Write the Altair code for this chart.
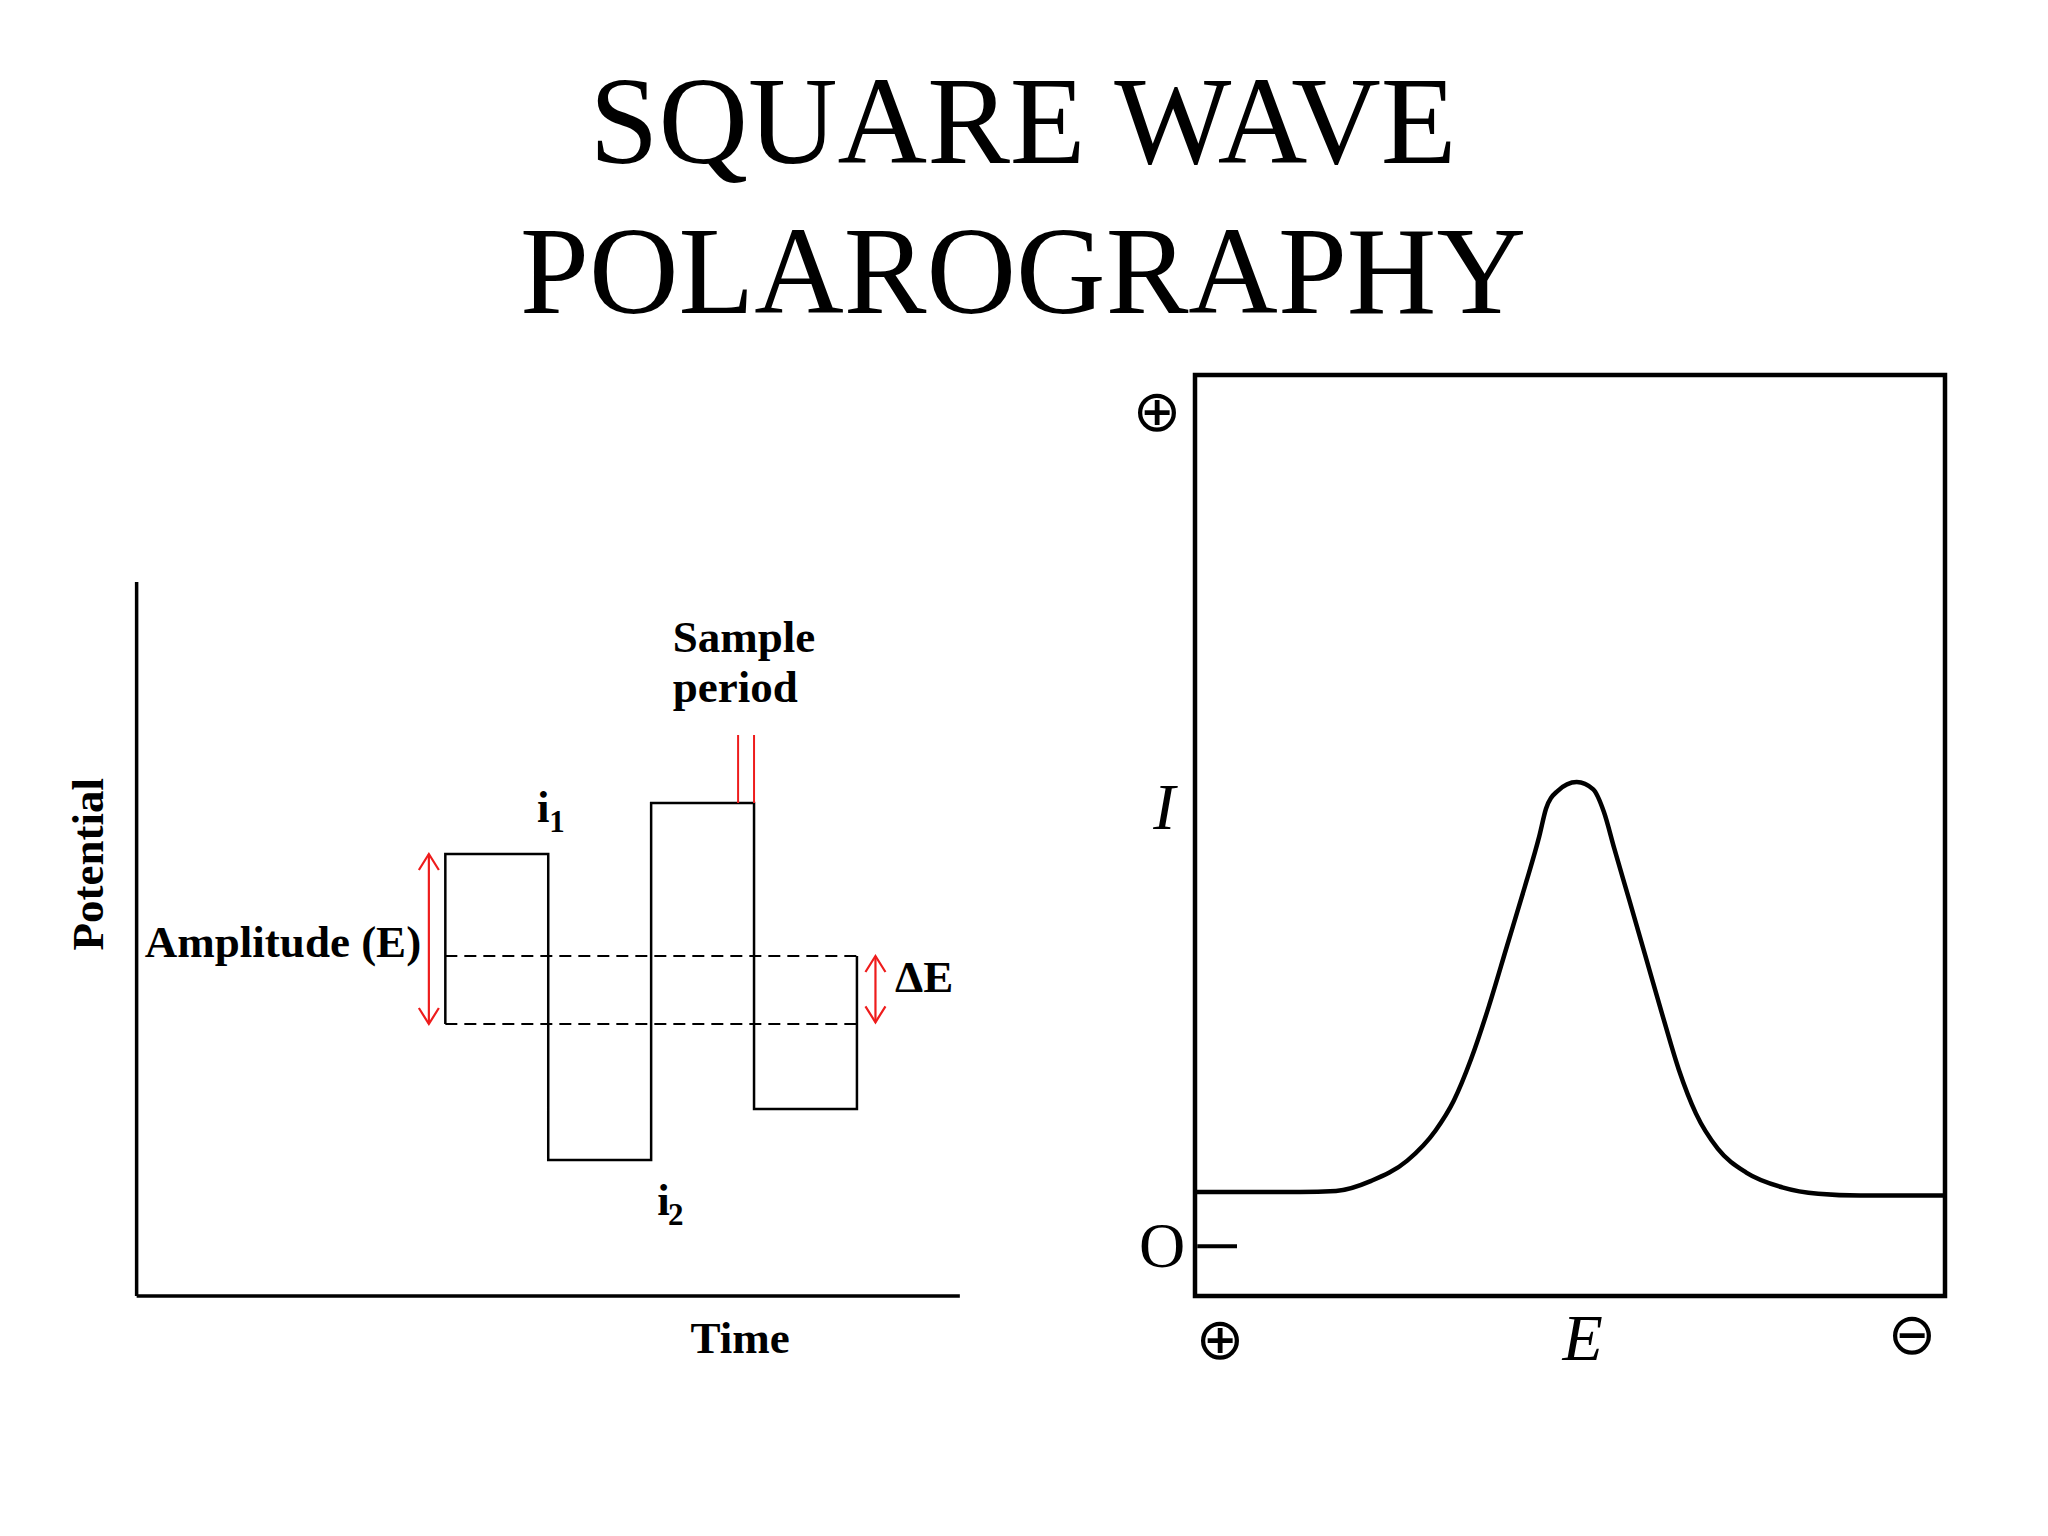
import altair as alt
import pandas as pd

# ---------------- left panel: square-wave potential programme ----------------
wave_time = [3, 3, 4, 4, 5, 5, 6, 6, 7, 7]
wave_potential = [160, 260, 260, 80, 80, 290, 290, 110, 110, 200]
dash_levels = [200, 160]          # E0 + dE, E0
dash_span = [3, 7]
axis_time_max = 8
axis_potential_max = 420
sample_times = [5.845, 6.0]
sample_span = [290, 330]
arrow_t = [2.84, 7.18]
arrow_lo = [160, 161]
arrow_hi = [260, 200]

left_text = ["Sample", "period", "Amplitude (E)", "\u0394E", "i", "i"]
left_text_t = [5.21, 5.21, 0.08, 7.37, 3.89, 5.06]
left_text_p = [378.8, 349.4, 199.4, 178.8, 278.8, 47.6]
sub_text = ["1", "2"]
sub_t = [4.01, 5.165]
sub_p = [272.9, 41.8]
xlabel = ("Time", 5.865, -33.5)
ylabel = ("Potential", -0.46, 254)

# ---------------- right panel: square-wave polarogram ----------------
curve_E = [0, 14.0, 18.8, 23.5, 28.3, 32.1, 34.5, 36.8, 39.2, 41.6, 44.0, 45.9, 46.8,
           48.3, 50.9, 53.1, 54.5, 55.9, 57.9, 60.1, 62.5, 64.5, 66.8, 69.7, 73.5,
           78.3, 83.1, 88.7, 100]
curve_I = [11.3, 11.3, 11.4, 12.5, 14.7, 18.0, 21.2, 25.7, 31.5, 38.0, 44.5, 49.9, 52.9,
           54.8, 55.8, 55.0, 52.6, 48.6, 43.0, 36.8, 30.0, 24.6, 19.8, 16.0, 13.4,
           11.8, 11.1, 10.9, 10.9]
zero_tick_E = [0.3, 5.6]
zero_level = 5.4
sym_text = ["\u2295", "\u2295", "\u2296"]
sym_E = [-5.07, 3.33, 95.6]
sym_I = [95.8, -5.0, -4.45]
ital_text = ["I", "E"]
ital_E = [-4.1, 51.7]
ital_I = [52.9, -4.8]
zero_text = ("O", -4.4, 5.2)

RED = "#ee1c1c"
SERIF = "Liberation Serif"

# ---------------- scales ----------------
lx = alt.Scale(domain=[-1.25, 8.4], nice=False, zero=False)
ly = alt.Scale(domain=[-50, 570], nice=False, zero=False)
rx = alt.Scale(domain=[-10, 106], nice=False, zero=False)
ry = alt.Scale(domain=[-9.23, 105.21], nice=False, zero=False)


def LX(f):
    return alt.X(f, type="quantitative", scale=lx, axis=None)


def LY(f):
    return alt.Y(f, type="quantitative", scale=ly, axis=None)


def RX(f):
    return alt.X(f, type="quantitative", scale=rx, axis=None)


def RY(f):
    return alt.Y(f, type="quantitative", scale=ry, axis=None)


# ---------- left layers ----------
wave_df = pd.DataFrame({"t": wave_time, "p": wave_potential, "i": range(len(wave_time))})
wave = alt.Chart(wave_df).mark_line(color="black", strokeWidth=2.5).encode(
    x=LX("t"), y=LY("p"), order="i:Q")

dash_df = pd.DataFrame({"p": dash_levels, "t0": dash_span[0], "t1": dash_span[1]})
dashes = alt.Chart(dash_df).mark_rule(color="black", strokeWidth=2, strokeDash=[12, 7]).encode(
    x=LX("t0"), x2="t1", y=LY("p"))

axes_df = pd.DataFrame({"t0": [0, 0], "t1": [0, axis_time_max], "p0": [0, 0],
                        "p1": [axis_potential_max, 0]})
axes = alt.Chart(axes_df).mark_rule(color="black", strokeWidth=3.5).encode(
    x=LX("t0"), x2="t1", y=LY("p0"), y2="p1")

samp_df = pd.DataFrame({"t": sample_times, "p0": sample_span[0], "p1": sample_span[1]})
samp = alt.Chart(samp_df).mark_rule(color=RED, strokeWidth=2).encode(
    x=LX("t"), y=LY("p0"), y2="p1")

arr_df = pd.DataFrame({"t": arrow_t, "lo": arrow_lo, "hi": arrow_hi})
arr_shaft = alt.Chart(arr_df).mark_rule(color=RED, strokeWidth=2.2).encode(
    x=LX("t"), y=LY("lo"), y2="hi")
arr_up = alt.Chart(arr_df).mark_point(shape="M-1,1.6L0,0L1,1.6", size=400, filled=False,
                                      color=RED, strokeWidth=2.2, opacity=1).encode(
    x=LX("t"), y=LY("hi"))
arr_dn = alt.Chart(arr_df).mark_point(shape="M-1,-1.6L0,0L1,-1.6", size=400, filled=False,
                                      color=RED, strokeWidth=2.2, opacity=1).encode(
    x=LX("t"), y=LY("lo"))

lt_df = pd.DataFrame({"txt": left_text, "t": left_text_t, "p": left_text_p})
ltext = alt.Chart(lt_df).mark_text(font=SERIF, fontWeight="bold", fontSize=45, align="left",
                                   baseline="alphabetic", color="black").encode(
    x=LX("t"), y=LY("p"), text="txt:N")
sub_df = pd.DataFrame({"txt": sub_text, "t": sub_t, "p": sub_p})
stext = alt.Chart(sub_df).mark_text(font=SERIF, fontWeight="bold", fontSize=31, align="left",
                                    baseline="alphabetic", color="black").encode(
    x=LX("t"), y=LY("p"), text="txt:N")
xl_df = pd.DataFrame({"txt": [xlabel[0]], "t": [xlabel[1]], "p": [xlabel[2]]})
xl = alt.Chart(xl_df).mark_text(font=SERIF, fontWeight="bold", fontSize=45, align="center",
                                baseline="alphabetic", color="black").encode(
    x=LX("t"), y=LY("p"), text="txt:N")
yl_df = pd.DataFrame({"txt": [ylabel[0]], "t": [ylabel[1]], "p": [ylabel[2]]})
yl = alt.Chart(yl_df).mark_text(font=SERIF, fontWeight="bold", fontSize=45, align="center",
                                baseline="middle", angle=270, color="black").encode(
    x=LX("t"), y=LY("p"), text="txt:N")

left = alt.layer(axes, dashes, wave, samp, arr_shaft, arr_up, arr_dn, ltext, stext, xl, yl
                 ).properties(width=993, height=1054)

# ---------- right layers ----------
box_df = pd.DataFrame({"e0": [0], "e1": [100], "i0": [0], "i1": [100]})
box = alt.Chart(box_df).mark_rect(filled=False, color="black", strokeWidth=4.5).encode(
    x=RX("e0"), x2="e1", y=RY("i0"), y2="i1")

curve_df = pd.DataFrame({"E": curve_E, "I": curve_I})
curve = alt.Chart(curve_df).mark_line(color="black", strokeWidth=4.5, interpolate="monotone").encode(
    x=RX("E"), y=RY("I"))

tick_df = pd.DataFrame({"e0": [zero_tick_E[0]], "e1": [zero_tick_E[1]], "i": [zero_level]})
tick = alt.Chart(tick_df).mark_rule(color="black", strokeWidth=4).encode(
    x=RX("e0"), x2="e1", y=RY("i"))

sym_df = pd.DataFrame({"txt": sym_text, "E": sym_E, "I": sym_I})
sym = alt.Chart(sym_df).mark_text(font="DejaVu Sans", fontSize=58, align="center",
                                  baseline="middle", color="black").encode(
    x=RX("E"), y=RY("I"), text="txt:N")
it_df = pd.DataFrame({"txt": ital_text, "E": ital_E, "I": ital_I})
ital = alt.Chart(it_df).mark_text(font=SERIF, fontStyle="italic", fontSize=66, align="center",
                                  baseline="middle", color="black").encode(
    x=RX("E"), y=RY("I"), text="txt:N")
z_df = pd.DataFrame({"txt": [zero_text[0]], "E": [zero_text[1]], "I": [zero_text[2]]})
zero = alt.Chart(z_df).mark_text(font=SERIF, fontSize=64, align="center",
                                 baseline="middle", color="black").encode(
    x=RX("E"), y=RY("I"), text="txt:N")

right = alt.layer(box, curve, tick, sym, ital, zero).properties(width=870, height=1054)

chart = alt.hconcat(left, right, spacing=119).properties(
    padding={"left": 0, "top": 56, "right": 0, "bottom": 0},
    bounds="flush",
    background="white",
    title=alt.TitleParams(["SQUARE WAVE", "POLAROGRAPHY"], font=SERIF, fontSize=124,
                          fontWeight="normal", lineHeight=150, anchor="middle",
                          offset=-12, dx=24, color="black"),
).configure_view(stroke=None)

chart.save("out.html", embed_options={"renderer": "svg", "actions": False})
